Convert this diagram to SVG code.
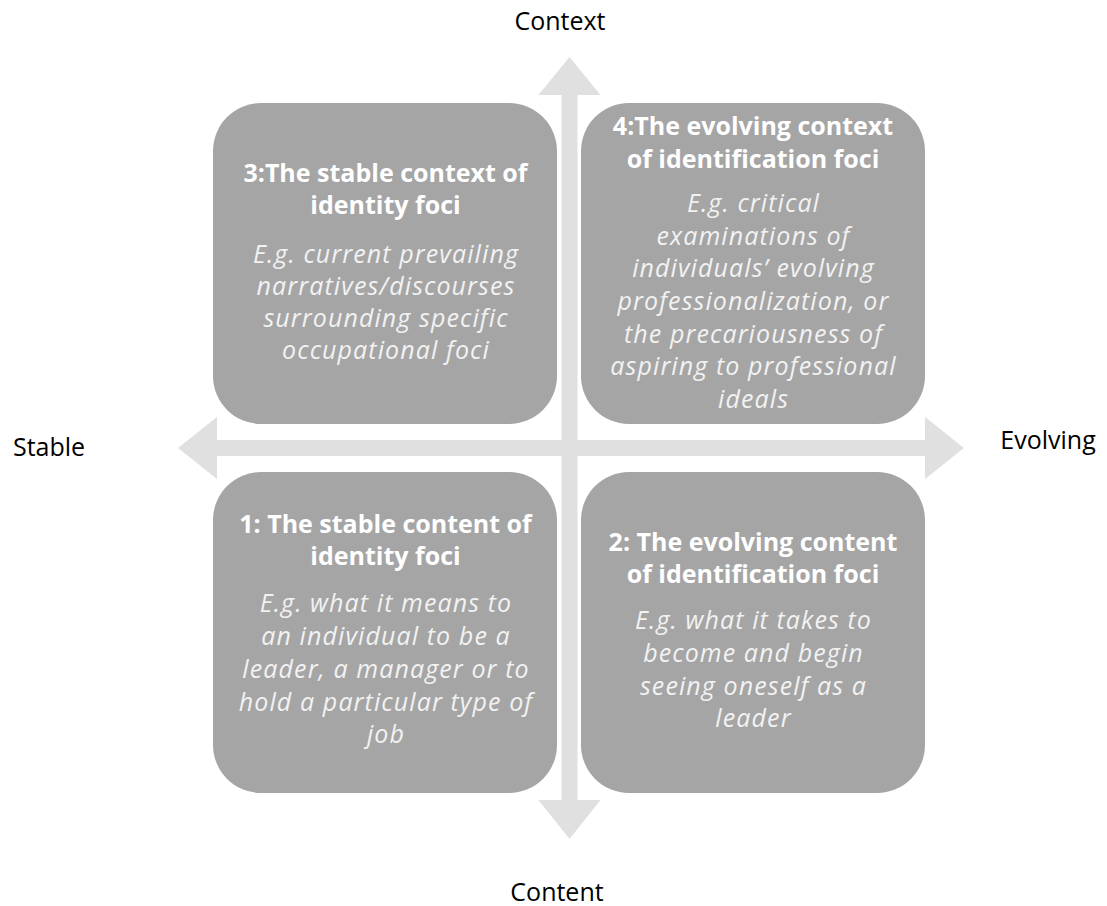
<svg xmlns="http://www.w3.org/2000/svg" width="1107" height="906" viewBox="0 0 1107 906">
  <style>
    .box { fill: #a5a5a5; }
    .arrow { fill: #e0e0e0; }
    .title { font-family: "Open Sans", "DejaVu Sans", sans-serif; font-weight: bold; font-size: 25px; fill: #ffffff; text-anchor: middle; }
    .desc { font-family: "Open Sans", "DejaVu Sans", sans-serif; font-style: italic; font-size: 25px; letter-spacing: 1.1px; fill: #f2f2f2; text-anchor: middle; }
    .axis { font-family: "Open Sans", "DejaVu Sans", sans-serif; font-size: 25px; fill: #000000; }
  </style>
  <rect width="1107" height="906" fill="#ffffff"/>
  <g id="connectors">
    <polygon class="arrow" points="569.5,57 600.5,95 577.5,95 577.5,800 600.5,800 569.5,839 538.5,800 561.5,800 561.5,95 538.5,95"/>
    <polygon class="arrow" points="178,448 217,417 217,440 925,440 925,417 964,448 925,479 925,456 217,456 217,479"/>
  </g>
  <g id="axis-labels">
    <text id="label-context" class="axis" x="560" y="30" text-anchor="middle">Context</text>
    <text id="label-content" class="axis" x="557" y="901" text-anchor="middle">Content</text>
    <text id="label-stable" class="axis" x="49" y="456" text-anchor="middle">Stable</text>
    <text id="label-evolving" class="axis" x="1048" y="449" text-anchor="middle">Evolving</text>
  </g>
  <g id="node-3">
    <rect class="box" x="213" y="103" width="344" height="321" rx="48" ry="48"/>
    <text class="title" x="385.5" y="182">3:The stable context of</text>
    <text class="title" x="385.5" y="214">identity foci</text>
    <text class="desc" x="386" y="263">E.g. current prevailing</text>
    <text class="desc" x="386" y="295">narratives/discourses</text>
    <text class="desc" x="386" y="327">surrounding specific</text>
    <text class="desc" x="386" y="359">occupational foci</text>
  </g>
  <g id="node-4">
    <rect class="box" x="581" y="103" width="344" height="321" rx="48" ry="48"/>
    <text class="title" x="753" y="135">4:The evolving context</text>
    <text class="title" x="753" y="168">of identification foci</text>
    <text class="desc" x="753.5" y="212">E.g. critical</text>
    <text class="desc" x="753.5" y="245">examinations of</text>
    <text class="desc" x="753.5" y="277">individuals’ evolving</text>
    <text class="desc" x="753.5" y="310">professionalization, or</text>
    <text class="desc" x="753.5" y="343">the precariousness of</text>
    <text class="desc" x="753.5" y="375">aspiring to professional</text>
    <text class="desc" x="753.5" y="408">ideals</text>
  </g>
  <g id="node-1">
    <rect class="box" x="213" y="472" width="344" height="321" rx="48" ry="48"/>
    <text class="title" x="385.5" y="533">1: The stable content of</text>
    <text class="title" x="385.5" y="565">identity foci</text>
    <text class="desc" x="386" y="612">E.g. what it means to</text>
    <text class="desc" x="386" y="645">an individual to be a</text>
    <text class="desc" x="386" y="678">leader, a manager or to</text>
    <text class="desc" x="386" y="711">hold a particular type of</text>
    <text class="desc" x="386" y="743">job</text>
  </g>
  <g id="node-2">
    <rect class="box" x="581" y="472" width="344" height="321" rx="48" ry="48"/>
    <text class="title" x="753" y="551">2: The evolving content</text>
    <text class="title" x="753" y="583">of identification foci</text>
    <text class="desc" x="753.5" y="629">E.g. what it takes to</text>
    <text class="desc" x="753.5" y="662">become and begin</text>
    <text class="desc" x="753.5" y="695">seeing oneself as a</text>
    <text class="desc" x="753.5" y="727">leader</text>
  </g>
</svg>
